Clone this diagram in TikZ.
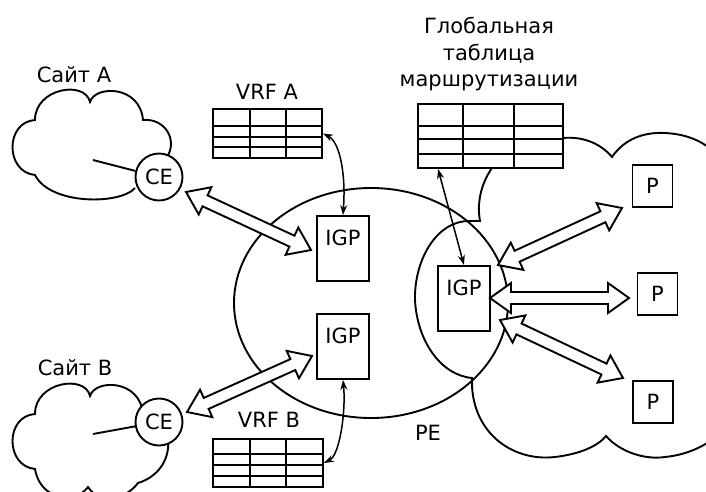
\documentclass[tikz,border=0pt]{standalone}
\usepackage{fontspec}
\setmainfont{DejaVu Sans}
\usetikzlibrary{calc,arrows.meta,shapes.geometric}
\newcommand{\hollowarrow}[2]{%
  \coordinate (ha) at ($(#1)!21pt!(#2)$);
  \coordinate (hb) at ($(#2)!21pt!(#1)$);
  \draw[hollow] (#1)
    -- ($(ha)!15pt!90:(#2)$) -- ($(ha)!6pt!90:(#2)$)
    -- ($(hb)!6pt!-90:(#1)$) -- ($(hb)!15pt!-90:(#1)$)
    -- (#2)
    -- ($(hb)!15pt!90:(#1)$) -- ($(hb)!6pt!90:(#1)$)
    -- ($(ha)!6pt!-90:(#2)$) -- ($(ha)!15pt!-90:(#2)$)
    -- cycle;}
\newcommand{\tbllines}[6]{%
  \foreach \c in {#2,#3} \draw[inline] ($(#1.north west)+(\c,0)$) -- ($(#1.south west)+(\c,0)$);
  \foreach \r in {#4,#5,#6} \draw[inline] ($(#1.north west)+(0,\r)$) -- ($(#1.north east)+(0,\r)$);}
\begin{document}
\begin{tikzpicture}[x=1pt,y=-1pt,
  line/.style={line width=1.9pt},
  inline/.style={line width=1.5pt},
  tbl/.style={draw, line width=1.9pt, fill=white, inner sep=0pt},
  box/.style={draw, line width=1.9pt, fill=white, inner sep=0pt, font=\fontsize{21}{25}\selectfont},
  igp/.style={box, anchor=north west, minimum width=52pt, text height=30pt, text depth=35pt},
  pbox/.style={box, minimum width=40pt, minimum height=42pt},
  ce/.style={circle, draw, line width=1.9pt, fill=white, inner sep=0pt, minimum size=47pt, font=\fontsize{21}{25}\selectfont},
  lbl/.style={font=\fontsize{21}{25}\selectfont, inner sep=0pt, anchor=base},
  thinarrow/.style={line width=1.5pt, {Stealth[length=10pt,width=7pt]}-{Stealth[length=10pt,width=7pt]}},
  hollow/.style={line width=1.9pt, draw, fill=white, line join=miter}]
\useasboundingbox (0,0) rectangle (706,491);
\clip (0,0) rectangle (706,491);

% right cloud (P network)
\draw[line] (563,138) .. controls (585,136) and (602,145) .. (612,157)
  .. controls (625,138) and (645,132) .. (665,133)
  .. controls (685,134) and (700,140) .. (712,150);
\draw[line] (492,168) .. controls (480,185) and (477,205) .. (480,221) -- (468,221)
  .. controls (435,222) and (414,262) .. (415,300)
  .. controls (417,340) and (440,375) .. (472,378)
  .. controls (470,430) and (510,462) .. (555,457)
  .. controls (580,454) and (598,446) .. (606,436)
  .. controls (620,452) and (645,460) .. (665,457)
  .. controls (685,455) and (700,448) .. (712,440);

% PE
\node[ellipse, draw, line width=1.9pt, minimum width=274pt, minimum height=230pt, inner sep=0pt] (pe) at (371,303) {};
\node[lbl] (pelbl) at (428,440) {PE};

% site clouds
\draw[line] (135,188) .. controls (120,205) and (50,205) .. (35,175)
  .. controls (5,172) and (5,122) .. (35,120)
  .. controls (35,88) and (85,80) .. (90,102)
  .. controls (95,85) and (140,85) .. (143,120)
  .. controls (165,118) and (178,140) .. (167,157);
\draw[line] (143,414) .. controls (175,415) and (180,470) .. (138,483)
  .. controls (125,500) and (100,505) .. (88,487)
  .. controls (75,505) and (40,500) .. (35,469)
  .. controls (5,466) and (5,416) .. (35,414)
  .. controls (35,382) and (85,374) .. (90,396)
  .. controls (95,379) and (140,379) .. (143,414);
\node[lbl] (siteA) at (74,82) {Сайт А};
\node[lbl] (siteB) at (75,375) {Сайт В};
\coordinate (inA) at (93,160);
\coordinate (inB) at (93,434);
\node[ce] (ceA) at (159,177) {CE};
\node[ce] (ceB) at (159,422) {CE};
\draw[line] (ceA) -- (inA);
\draw[line] (ceB) -- (inB);

% tables
\node[tbl, minimum width=109pt, minimum height=49pt] (vrfA) at (267.5,133.5) {};
\tbllines{vrfA}{38}{74}{18}{29}{39}
\node[lbl] (vrfAlbl) at (267,99) {VRF A};
\node[tbl, minimum width=110pt, minimum height=48pt] (vrfB) at (268,463) {};
\tbllines{vrfB}{38}{74}{16}{27}{38}
\node[lbl] (vrfBlbl) at (269,427) {VRF B};
\node[tbl, minimum width=145pt, minimum height=64pt] (gtab) at (490.5,136) {};
\tbllines{gtab}{46}{97}{23}{36}{51}
\node[lbl] (gt1) at (489,33) {Глобальная};
\node[lbl] (gt2) at (489,60) {таблица};
\node[lbl] (gt3) at (489,86) {маршрутизации};

% IGP and P boxes
\node[igp] (igpA) at (316,215) {IGP};
\node[igp] (igpB) at (316,313) {IGP};
\node[igp] (igpR) at (437,265) {IGP};
\node[pbox] (p1) at (652.5,186) {P};
\node[pbox] (p2) at (657.5,294) {P};
\node[pbox] (p3) at (653,402) {P};

% thin arrows
\draw[thinarrow] (vrfA.east) .. controls (340,142) and (346,175) .. (igpA.north);
\draw[thinarrow] (igpB.south) .. controls (346,410) and (340,455) .. (vrfB.east);
\draw[thinarrow] ($(gtab.south west)+(21,0)$) -- (igpR.north);

% hollow double arrows
\coordinate (a1s) at (186,192); \coordinate (a1e) at (311,250);
\coordinate (a2s) at (187,412); \coordinate (a2e) at (312,356);
\coordinate (a3s) at (498,265); \coordinate (a3e) at (622,208);
\coordinate (a4s) at (490,298); \coordinate (a4e) at (629,298);
\coordinate (a5s) at (500,320); \coordinate (a5e) at (623,378);
\hollowarrow{a1s}{a1e}
\hollowarrow{a2s}{a2e}
\hollowarrow{a3s}{a3e}
\hollowarrow{a4s}{a4e}
\hollowarrow{a5s}{a5e}
\end{tikzpicture}
\end{document}
